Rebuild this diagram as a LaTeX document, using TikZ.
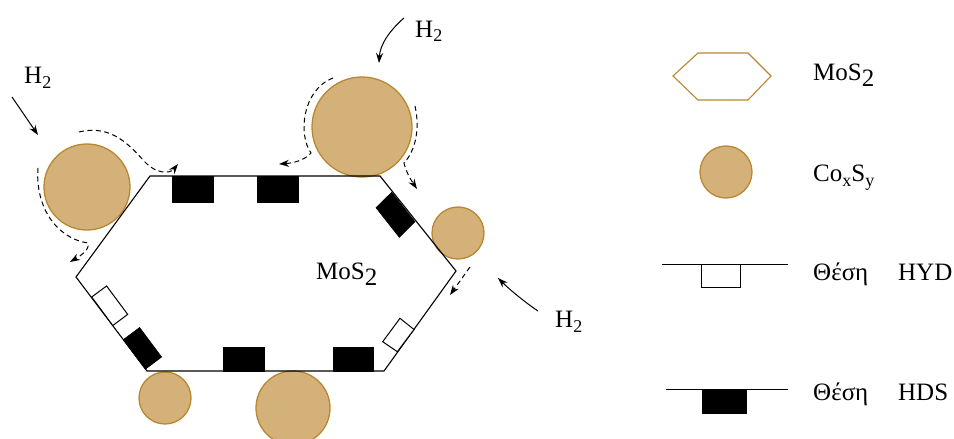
\documentclass[tikz,border=0pt]{standalone}
\usepackage{fontspec}
\setmainfont{Liberation Serif}
\usetikzlibrary{arrows.meta}
\definecolor{cofill}{RGB}{213,177,122}
\definecolor{coedge}{RGB}{185,135,50}
\newcommand\dn[2]{\raisebox{-#1pt}{#2}}
\newcommand\smallsub[1]{\raisebox{-5pt}{\fontsize{18}{18}\selectfont #1}}
\begin{document}
\begin{tikzpicture}[x=1pt,y=-1pt,
  font=\fontsize{25}{30}\selectfont,
  cosy/.style={circle, fill=cofill, draw=coedge, line width=1.3pt, inner sep=0pt},
  hex/.style={draw=black, line width=1.1pt, line join=miter},
  hds/.style={fill=black, draw=black, line width=0.6pt},
  hyd/.style={fill=white, draw=black, line width=1pt},
  gasarrow/.style={-{Stealth[length=10pt,width=7pt]}, line width=1pt},
  flow/.style={dash pattern=on 5pt off 3.5pt, line width=1pt, -{Stealth[length=10pt,width=7pt]}},
  lbl/.style={anchor=base west, inner sep=0pt}]
\useasboundingbox (0,0) rectangle (954,439);
\clip (0,0) rectangle (954,439);

% Co_xS_y particles
\node[cosy, minimum size=86pt]  (c1) at (87,187) {};
\node[cosy, minimum size=100pt] (c2) at (362,127) {};
\node[cosy, minimum size=52pt]  (c3) at (458,233) {};
\node[cosy, minimum size=52pt]  (c4) at (165,398) {};
\node[cosy, minimum size=74pt]  (c5) at (293,408) {};

% MoS2 slab
\coordinate (h1) at (150,176);
\coordinate (h2) at (380,176);
\coordinate (h3) at (456,271);
\coordinate (h4) at (384,371);
\coordinate (h5) at (147,371);
\coordinate (h6) at (76,277);
\draw[hex] (h1) -- (h2) -- (h3) -- (h4) -- (h5) -- (h6) -- cycle;

% HDS sites
\draw[hds] (172,176) rectangle (213,202);
\draw[hds] (257,176) rectangle (298,202);
\draw[hds] (223,347) rectangle (264,371);
\draw[hds] (333,347) rectangle (373,371);
\draw[hds] (391.7,192.3) -- (415,221.7) -- (399.3,237.3) -- (376,207.7) -- cycle;
\draw[hds] (123.3,339.7) -- (145.4,369.2) -- (161.6,357.0) -- (139.6,327.5) -- cycle;

% HYD sites
\draw[hyd] (91.7,297.0) -- (112.8,325.5) -- (127.7,314.4) -- (106.6,286.0) -- cycle;
\draw[hyd] (414,329.5) -- (397.3,351.7) -- (382.7,341.7) -- (400,318.3) -- cycle;

% label on slab
\node[lbl] (mos) at (316,279) {MoS\dn{6}{2}};

% H2 labels and arrows
\node[lbl] (hA) at (24,83) {H\smallsub{2}};
\node[lbl] (hB) at (415,37) {H\smallsub{2}};
\node[lbl] (hC) at (555,327) {H\smallsub{2}};
\coordinate (aA1) at (12,97);   \coordinate (aA2) at (38,135);
\coordinate (aB1) at (404,18);  \coordinate (aB2) at (379,63);
\coordinate (aC1) at (538,311); \coordinate (aC2) at (498,278);
\draw[gasarrow] (aA1) -- (aA2);
\draw[gasarrow] (aB1) .. controls (389,31) and (380,45) .. (aB2);
\draw[gasarrow] (aC1) .. controls (526,303) and (510,290) .. (aC2);

% spillover paths (dashed)
\coordinate (f1s) at (79,132);  \coordinate (f1e) at (178,164);
\coordinate (f2s) at (38,168);  \coordinate (f2e) at (70,262);
\coordinate (f3s) at (333,78);  \coordinate (f3e) at (279,164);
\coordinate (f4s) at (415,106); \coordinate (f4e) at (417,189);
\coordinate (f5s) at (470,267); \coordinate (f5e) at (450,295);
\draw[flow] (f1s) .. controls (112,124) and (130,146) .. (145,162)
            .. controls (156,174) and (170,174) .. (f1e);
\draw[flow] (f2s) .. controls (35,205) and (55,238) .. (88,243)
            .. controls (90,250) and (80,256) .. (f2e);
\draw[flow] (f3s) .. controls (302,90) and (298,135) .. (311,153)
            .. controls (305,160) and (294,163) .. (f3e);
\draw[flow] (f4s) .. controls (420,128) and (416,150) .. (404,163)
            .. controls (406,172) and (411,180) .. (f4e);
\draw[flow] (f5s) -- (f5e);

% legend
\draw[draw=coedge, line width=1.1pt] (673,76) -- (698,53) -- (748,53) -- (771,76) -- (748,100) -- (698,100) -- cycle;
\node[lbl] (lg1) at (813,80) {MoS\dn{6}{2}};
\node[cosy, minimum size=52pt] (lgc) at (726,172) {};
\node[lbl] (lg2) at (813,181) {Co\smallsub{x}S\smallsub{y}};
\draw[line width=1pt] (662,264) -- (788,264);
\draw[line width=1pt] (701,264) -- (701,287) -- (740,287) -- (740,264);
\node[lbl] (lg3) at (813,280) {\makebox[85pt][l]{Θέση}HYD};
\draw[line width=1pt] (666,389) -- (788,389);
\draw[hds] (702,389) rectangle (746,413);
\node[lbl] (lg4) at (813,400) {\makebox[85pt][l]{Θέση}HDS};
\end{tikzpicture}
\end{document}
